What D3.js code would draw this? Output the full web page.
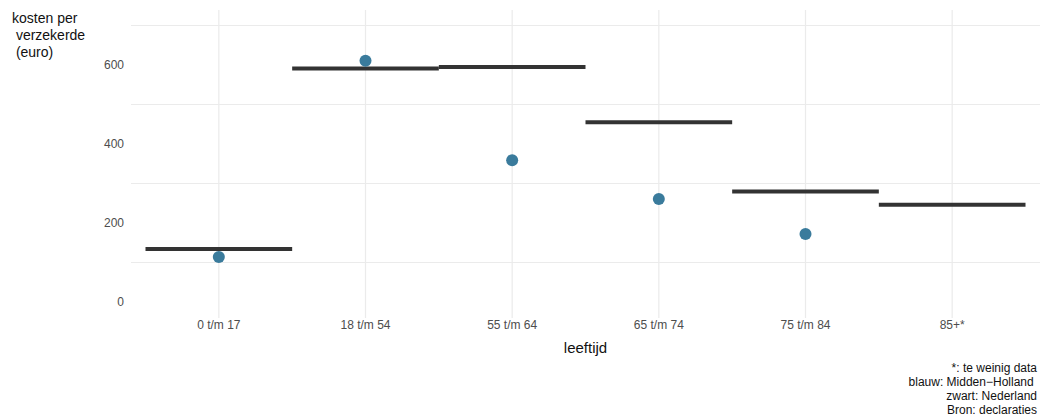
<!DOCTYPE html>
<html><head><meta charset="utf-8">
<script src="https://cdn.jsdelivr.net/npm/d3@7"></script>
<style>body{margin:0;background:#fff}svg{display:block;font-family:"Liberation Sans",Arial,sans-serif}</style>
</head><body><svg id="c" width="1041" height="416"></svg>
<script>
const categories = ["0 t/m 17","18 t/m 54","55 t/m 64","65 t/m 74","75 t/m 84","85+*"];
const nederland = [134, 591, 595, 455, 280, 246];
const middenHolland = [114, 611, 359, 261, 172, null];
const yTicks = [0, 200, 400, 600];
const yMinor = [100, 300, 500, 700];
const yTitle = ["kosten per", " verzekerde", " (euro)"];
const xTitle = "leeftijd";
const caption = ["*: te weinig data", "blauw: Midden\u2212Holland ", "zwart: Nederland", "Bron: declaraties"];

const svg = d3.select("#c");
const panel = {l: 131, r: 1040, t: 10, b: 318};
const x = d3.scaleBand().domain(categories).range([145.5, 1025.5]).padding(0);
const xc = d => x(d) + x.bandwidth()/2;
const y = d3.scaleLinear().domain([0, 600]).range([302, 65]);

const g = svg.append("g");
// minor horizontal gridlines
g.selectAll(".hg").data(yMinor).join("line")
  .attr("x1", panel.l).attr("x2", panel.r)
  .attr("y1", d => y(d)).attr("y2", d => y(d))
  .attr("stroke", "#ebebeb").attr("stroke-width", 1);
// vertical gridlines
g.selectAll(".vg").data(categories).join("line")
  .attr("x1", d => xc(d)).attr("x2", d => xc(d))
  .attr("y1", panel.t).attr("y2", panel.b)
  .attr("stroke", "#ebebeb").attr("stroke-width", 1.2);

// y axis tick labels
const yAxis = d3.axisLeft(y).tickValues(yTicks).tickSize(0).tickPadding(0);
const ya = svg.append("g").attr("transform", "translate(124,0)").call(yAxis);
ya.select(".domain").remove();
ya.selectAll("text").attr("font-size", 12).attr("fill", "#4d4d4d").attr("font-family", "Liberation Sans, Arial, sans-serif");

// x axis labels
const xAxis = d3.axisBottom(x).tickSize(0).tickPadding(0);
const xa = svg.append("g").attr("transform", "translate(0,320)").call(xAxis);
xa.select(".domain").remove();
xa.selectAll("text").attr("font-size", 12).attr("fill", "#4d4d4d").attr("font-family", "Liberation Sans, Arial, sans-serif");

// Nederland segments
svg.selectAll(".seg").data(categories).join("line")
  .attr("x1", d => x(d)).attr("x2", d => x(d) + x.bandwidth())
  .attr("y1", (d,i) => y(nederland[i])).attr("y2", (d,i) => y(nederland[i]))
  .attr("stroke", "#333333").attr("stroke-width", 4);

// Midden-Holland points
svg.selectAll(".pt").data(categories.map((c,i) => ({c, v: middenHolland[i]})).filter(d => d.v != null)).join("circle")
  .attr("cx", d => xc(d.c)).attr("cy", d => y(d.v)).attr("r", 6)
  .attr("fill", "#3a7b9c");

// titles
svg.append("text").attr("x", (panel.l + panel.r)/2).attr("y", 353)
  .attr("text-anchor", "middle").attr("font-size", 15).attr("fill", "#111").text(xTitle);
svg.append("text").attr("font-size", 14).attr("fill", "#111")
  .selectAll("tspan").data(yTitle).join("tspan")
  .attr("x", 12).attr("y", (d,i) => 23 + i*17).attr("xml:space", "preserve").style("white-space", "pre").text(d => d);
svg.append("text").attr("font-size", 12).attr("fill", "#111").attr("text-anchor", "end")
  .selectAll("tspan").data(caption).join("tspan")
  .attr("x", 1037).attr("y", (d,i) => 372 + i*14).style("white-space", "pre").text(d => d);
</script></body></html>
